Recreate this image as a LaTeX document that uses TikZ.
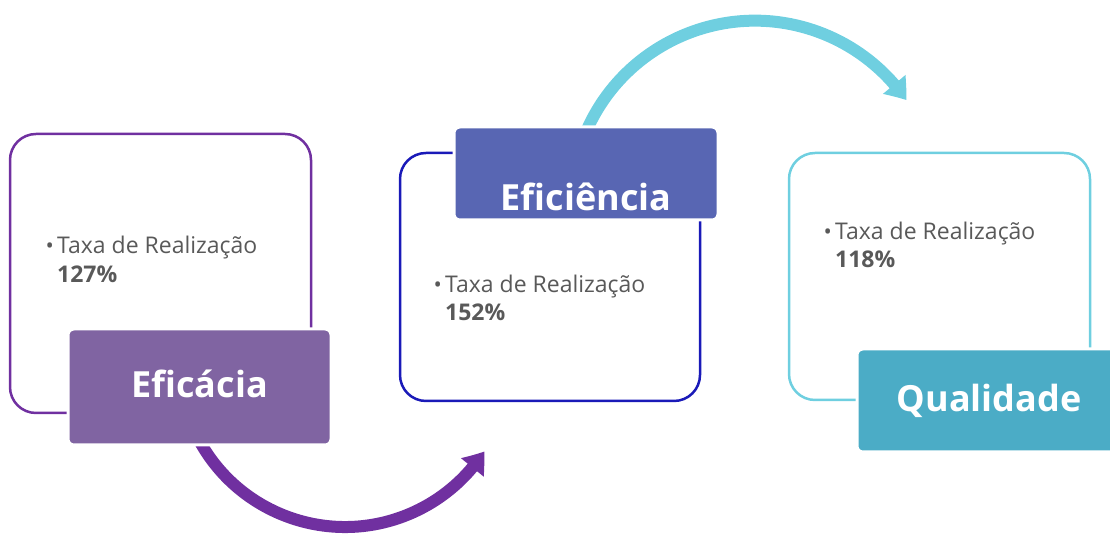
\documentclass[tikz,border=0pt]{standalone}
\usepackage{fontspec}
\setmainfont{Open Sans}
\usetikzlibrary{arrows.meta,calc,bending}
\definecolor{cPurple}{HTML}{7030A0}
\definecolor{cPurpleFill}{HTML}{8064A2}
\definecolor{cBlue}{HTML}{1A1AB8}
\definecolor{cBlueFill}{HTML}{5866B3}
\definecolor{cCyan}{HTML}{6FCFE0}
\definecolor{cCyanFill}{HTML}{4BACC6}
\definecolor{cText}{HTML}{595959}
\tikzset{
  outline/.style={draw=#1, line width=2.5pt, rounded corners=26pt},
  labelbox/.style={fill=#1, draw=white, line width=3pt, rounded corners=6pt},
  labeltext/.style={font=\fontsize{36}{40}\selectfont\bfseries, text=white, inner sep=0pt, anchor=base},
  bodytext/.style={font=\fontsize{23}{28}\selectfont, text=cText, inner sep=0pt, anchor=base west},
  bullet/.style={font=\fontsize{22}{26}\selectfont, text=cText, inner sep=0pt, anchor=base east},
  arcarrow/.style={draw=#1, line width=12pt, -{Triangle[length=20pt,width=28pt,bend]}}
}
\begin{document}
\begin{tikzpicture}[x=1pt,y=1pt]
\useasboundingbox (0,0) rectangle (1110,534);
\clip (0,0) rectangle (1110,534);
% arrows (drawn first, partly hidden by label boxes)
\coordinate (c1) at (345,173);
\coordinate (c2) at (755,329.3);
\coordinate (a1s) at ($(c1)+(205:166)$);
\coordinate (a2s) at ($(c2)+(160:184)$);
\draw[arcarrow=cPurple] (a1s) arc[start angle=205, end angle=327, radius=166];
\draw[arcarrow=cCyan] (a2s) arc[start angle=160, end angle=34.6, radius=184];
% outline boxes
\draw[outline=cPurple] (10,121) rectangle (311,400);
\draw[outline=cBlue] (400,133) rectangle (700,381);
\draw[outline=cCyan] (789,134) rectangle (1090,381);
% label boxes
\filldraw[labelbox=cPurpleFill] (68,89) rectangle (331,205);
\filldraw[labelbox=cBlueFill] (454,314) rectangle (718,407);
\filldraw[labelbox=cCyanFill] (857,82) rectangle (1121,185);
\node[labeltext] (l1) at (199.5,136) {Eficácia};
\node[labeltext] (l2) at (586,323) {Eficiência};
\node[labeltext] (l3) at (989,122) {Qualidade};
% body texts
\node[bodytext] (t1) at (57,280) {Taxa de Realização};
\node[bullet] (b1) at ([xshift=-3pt]t1.base west) {•};
\node[bodytext] (p1) at (57,251) {\bfseries 127\%};
\node[bodytext] (t2) at (445,241) {Taxa de Realização};
\node[bullet] (b2) at ([xshift=-3pt]t2.base west) {•};
\node[bodytext] (p2) at (445,213) {\bfseries 152\%};
\node[bodytext] (t3) at (835,294) {Taxa de Realização};
\node[bullet] (b3) at ([xshift=-3pt]t3.base west) {•};
\node[bodytext] (p3) at (835,266) {\bfseries 118\%};
\end{tikzpicture}
\end{document}
